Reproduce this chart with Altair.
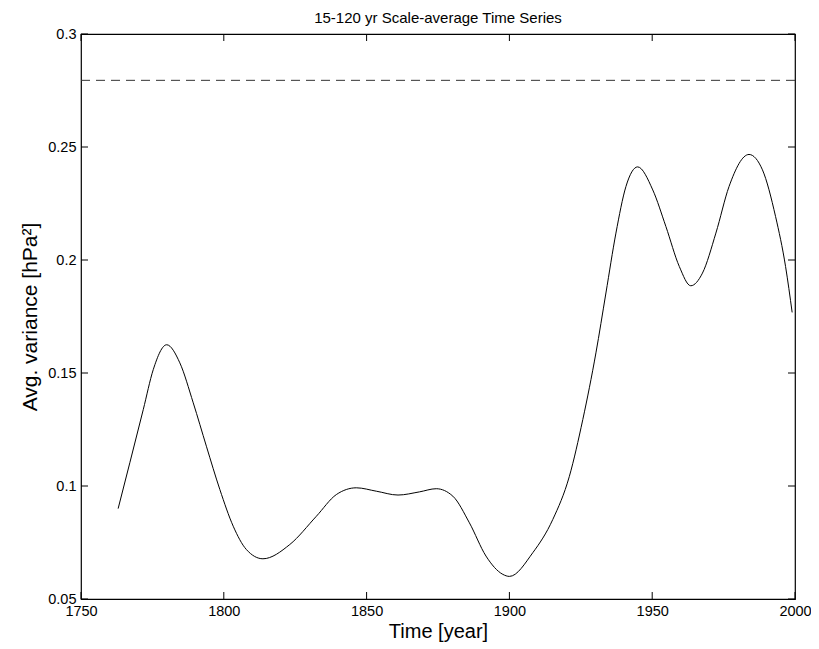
import altair as alt
import pandas as pd

years = [1763.0, 1767.1, 1771.8, 1775.3, 1780.0, 1784.6, 1789.3, 1793.9, 1798.6, 1803.3,
         1807.9, 1813.7, 1823.1, 1832.4, 1839.4, 1846.4, 1853.4, 1861.0, 1868.5, 1874.4,
         1880.2, 1886.0, 1891.8, 1897.7, 1900.0, 1908.2, 1915.2, 1921.0, 1925.7, 1930.3,
         1933.8, 1937.3, 1940.8, 1944.9, 1950.2, 1954.8, 1959.5, 1963.5, 1967.6, 1972.3,
         1976.9, 1983.9, 1988.6, 1993.2, 1996.7, 1999.0]
variance = [0.0900, 0.1103, 0.1338, 0.1515, 0.1625, 0.1545, 0.1368, 0.1176, 0.0985, 0.0822,
            0.0719, 0.0678, 0.0741, 0.0866, 0.0962, 0.0992, 0.0977, 0.0960, 0.0974, 0.0988,
            0.0955, 0.0837, 0.0690, 0.0609, 0.0600, 0.0705, 0.0852, 0.1043, 0.1294, 0.1589,
            0.1854, 0.2119, 0.2325, 0.2412, 0.2310, 0.2148, 0.1971, 0.1886, 0.1942, 0.2119,
            0.2325, 0.2467, 0.2399, 0.2192, 0.1971, 0.1768]
significance = 0.2795
title_text = "15-120 yr Scale-average Time Series"

x_ticks = [1750, 1800, 1850, 1900, 1950, 2000]
y_ticks = [0.05, 0.1, 0.15, 0.2, 0.25, 0.3]

W, H = 714, 565
FONT = "Liberation Sans"

df = pd.DataFrame({"year": years, "var": variance})
xt = pd.DataFrame({"t": x_ticks})
yt = pd.DataFrame({"t": y_ticks})

xs = alt.Scale(domain=[1750, 2000], nice=False, zero=False)
ys = alt.Scale(domain=[0.05, 0.3], nice=False, zero=False)

line = alt.Chart(df).mark_line(color="black", strokeWidth=1, interpolate="monotone").encode(
    x=alt.X("year:Q", scale=xs,
            axis=alt.Axis(title="Time [year]", values=x_ticks, format="d", ticks=False, domain=False,
                          grid=False, labelFontSize=14.5, labelPadding=5, labelColor="black",
                          labelFlush=False, labelOverlap=False,
                          titleFontSize=20, titleFontWeight="normal", titlePadding=4,
                          labelFont=FONT, titleFont=FONT, titleColor="black")),
    y=alt.Y("var:Q", scale=ys,
            axis=alt.Axis(title="Avg. variance [hPa²]", values=y_ticks, format="~g", ticks=False,
                          domain=False, grid=False, labelFontSize=14.5, labelPadding=5,
                          labelFlush=False, labelOverlap=False,
                          labelColor="black", titleFontSize=21, titleFontWeight="normal",
                          titlePadding=7, labelFont=FONT, titleFont=FONT, titleColor="black")),
)

dash = alt.Chart(pd.DataFrame({"y": [significance]})).mark_rule(
    color="#333333", strokeWidth=1, strokeDash=[9, 6]).encode(y=alt.Y("y:Q", scale=ys))

tick_kw = dict(color="black", strokeWidth=1)
xb = alt.Chart(xt).mark_rule(**tick_kw).encode(x=alt.X("t:Q", scale=xs), y=alt.value(H), y2=alt.value(H - 7))
xtop = alt.Chart(xt).mark_rule(**tick_kw).encode(x=alt.X("t:Q", scale=xs), y=alt.value(0), y2=alt.value(7))
yl = alt.Chart(yt).mark_rule(**tick_kw).encode(y=alt.Y("t:Q", scale=ys), x=alt.value(0), x2=alt.value(7))
yr = alt.Chart(yt).mark_rule(**tick_kw).encode(y=alt.Y("t:Q", scale=ys), x=alt.value(W), x2=alt.value(W - 7))

title = alt.Chart(pd.DataFrame({"t": [title_text]})).mark_text(
    font=FONT, fontSize=15, color="black", align="center", baseline="middle").encode(
    text="t:N", x=alt.value(W / 2), y=alt.value(-16))

chart = alt.layer(dash, line, xb, xtop, yl, yr, title).properties(
    width=W, height=H,
    autosize=alt.AutoSizeParams(type="none"),
    padding={"left": 73, "top": 26, "right": 16, "bottom": 48},
).configure_view(stroke="black", strokeWidth=1.2)

chart.save("out.html", embed_options={"renderer": "svg", "actions": False})
